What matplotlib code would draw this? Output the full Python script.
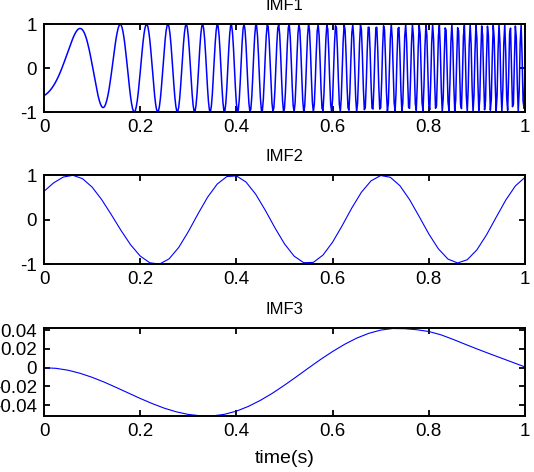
import numpy as np
import matplotlib
matplotlib.use("Agg")
import matplotlib.pyplot as plt

plt.rcParams["font.family"] = ["Liberation Sans", "DejaVu Sans"]
plt.rcParams["axes.unicode_minus"] = False

# IMF1: chirp, instantaneous frequency
imf1_f_start = 1.64     # Hz at t = 0
imf1_f_end = 90.6       # Hz at t = 1
imf1_phase0 = -0.775    # rad at t = 0 (curve starts near -0.7)
imf1_env_t = [0.0, 0.13, 0.16, 1.0]
imf1_env = [0.9, 0.9, 1.0, 1.0]
imf1_fs = 500           # samples per second (coarse: peaks look pointed)

# IMF2: sampled every 0.02 s
imf2 = [0.64, 0.83, 0.96, 1.00, 0.925, 0.735, 0.453, 0.115, -0.237, -0.560,
        -0.814, -0.965, -0.995, -0.878, -0.622, -0.267, 0.130, 0.506, 0.802,
        0.971, 0.987, 0.849, 0.577, 0.216, -0.177, -0.540, -0.816, -0.964,
        -0.956, -0.793, -0.502, -0.130, 0.266, 0.621, 0.876, 0.995, 0.956,
        0.766, 0.455, 0.074, -0.316, -0.653, -0.883, -0.970, -0.897, -0.675,
        -0.339, 0.055, 0.442, 0.761, 0.954]

# IMF3: sampled every 0.025 s
imf3 = [0.0, -0.0007, -0.0027, -0.0060, -0.0103, -0.0154, -0.0211, -0.0270,
        -0.0329, -0.0384, -0.0433, -0.0472, -0.0500, -0.0514, -0.0516,
        -0.0499, -0.0465, -0.0414, -0.0349, -0.0273, -0.0187, -0.0096,
        -0.0003, 0.0088, 0.0173, 0.0250, 0.0316, 0.0367, 0.0402, 0.0419,
        0.0417, 0.0406, 0.0387, 0.0352, 0.0304, 0.0252, 0.0201, 0.0152,
        0.0104, 0.0056, 0.0008]

titles = ["IMF1", "IMF2", "IMF3"]
xticks = [0, 0.2, 0.4, 0.6, 0.8, 1]
xticklabels = ["0", "0.2", "0.4", "0.6", "0.8", "1"]
yticks_12 = [-1, 0, 1]
yticks_3 = [-0.04, -0.02, 0, 0.02, 0.04]
yticklabels_3 = ["-0.04", "-0.02", "0", "0.02", "0.04"]

t1 = np.arange(0, imf1_fs + 1) / imf1_fs
k = imf1_f_end - imf1_f_start
phase = 2 * np.pi * (imf1_f_start * t1 + 0.5 * k * t1 ** 2) + imf1_phase0
y1 = np.interp(t1, imf1_env_t, imf1_env) * np.sin(phase)
t2 = np.linspace(0, 1, len(imf2))
t3 = np.linspace(0, 1, len(imf3))

fig = plt.figure(figsize=(5.34, 4.72), dpi=100)
rects = [[0.0824, 0.7627, 0.9007, 0.1864],
         [0.0824, 0.4400, 0.9007, 0.1886],
         [0.0824, 0.1186, 0.9007, 0.1858]]
series = [(t1, y1), (t2, imf2), (t3, imf3)]
widths = [1.1, 0.8, 0.8]

for i, (rect, (tx, ty)) in enumerate(zip(rects, series)):
    ax = fig.add_axes(rect)
    ax.plot(tx, ty, color="#0000ff", linewidth=widths[i])
    ax.set_xlim(0, 1)
    ax.set_xticks(xticks)
    ax.set_xticklabels(xticklabels)
    if i < 2:
        ax.set_ylim(-1, 1)
        ax.set_yticks(yticks_12)
        ax.set_yticklabels(["-1", "0", "1"])
    else:
        ax.set_ylim(-0.0517, 0.0421)
        ax.set_yticks(yticks_3)
        ax.set_yticklabels(yticklabels_3)
        ax.set_xlabel("time(s)", fontsize=14, labelpad=7)
    ax.set_title(titles[i], fontsize=12, pad=10)
    ax.tick_params(direction="in", length=4, width=1.3, labelsize=13.5,
                   top=True, right=True, pad=5)
    for s in ax.spines.values():
        s.set_linewidth(1.4)

fig.savefig("out.png", dpi=100)
